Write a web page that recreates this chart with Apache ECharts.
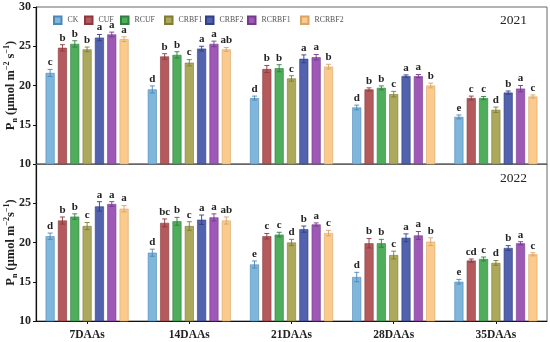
<!DOCTYPE html>
<html><head><meta charset="utf-8">
<script src="https://cdn.jsdelivr.net/npm/echarts@6/dist/echarts.min.js"></script>
<style>html,body{margin:0;padding:0;background:#fff}#c{width:550px;height:342px}</style>
</head><body><div id="c"></div>
<script>
const categories = ['7DAAs','14DAAs','21DAAs','28DAAs','35DAAs'];
const treatments = ['CK','CUF','RCUF','CRBF1','CRBF2','RCRBF1','RCRBF2'];
const yTicks = [10,15,20,25,30];

// 2021 Pn values, one row per treatment, columns = categories
const pn2021 = [
  [21.6,19.5,18.4,17.2,16.0],
  [24.8,23.7,22.1,19.5,18.4],
  [25.3,23.9,22.2,19.7,18.4],
  [24.6,22.9,20.9,18.9,16.9],
  [26.1,24.7,23.4,21.2,19.1],
  [26.5,25.3,23.6,21.2,19.6],
  [25.9,24.6,22.4,20.0,18.6]
];
const err2021 = [
  [0.45,0.45,0.25,0.3,0.25],
  [0.4,0.35,0.45,0.2,0.25],
  [0.4,0.4,0.45,0.25,0.2],
  [0.3,0.4,0.35,0.35,0.35],
  [0.4,0.3,0.5,0.15,0.2],
  [0.3,0.35,0.35,0.2,0.4],
  [0.3,0.25,0.3,0.3,0.2]
];
const letters2021 = [
  ['c','d','d','d','e'],
  ['b','b','b','b','c'],
  ['b','b','b','b','c'],
  ['b','c','c','c','d'],
  ['a','a','a','a','b'],
  ['a','a','a','a','a'],
  ['a','ab','b','b','c']
];
// 2022
const pn2022 = [
  [20.8,18.7,17.2,15.6,15.0],
  [22.8,22.5,20.8,19.9,17.7],
  [23.3,22.7,21.0,19.9,17.9],
  [22.1,22.1,20.0,18.4,17.4],
  [24.6,22.9,21.7,20.6,19.3],
  [24.9,23.2,22.3,20.9,19.9],
  [24.3,22.8,21.2,20.1,18.5]
];
const err2022 = [
  [0.4,0.45,0.45,0.6,0.3],
  [0.45,0.5,0.35,0.6,0.2],
  [0.35,0.5,0.3,0.5,0.25],
  [0.45,0.55,0.4,0.5,0.3],
  [0.6,0.6,0.4,0.5,0.3],
  [0.3,0.45,0.2,0.5,0.2],
  [0.4,0.45,0.35,0.5,0.2]
];
const letters2022 = [
  ['d','d','e','d','e'],
  ['b','bc','c','b','cd'],
  ['b','b','c','b','c'],
  ['c','c','d','c','d'],
  ['a','a','b','a','b'],
  ['a','a','a','a','a'],
  ['a','ab','c','b','c']
];

const fills = ['#7eb6dc','#b4595c','#4fad5b','#aca95d','#5262ad','#9e58b6','#fbcb8d'];
const edges = ['#4d88b5','#8a3a3e','#2f8040','#7f7c38','#323f86','#733b8b','#d9a465'];
const legendLeft = [53,84,120,164,205,247,300];

const SERIF = '"Liberation Serif","Times New Roman",serif';
const BAR_W = 9, BAR_GAP = 0.37;
const STEP = BAR_W * (1 + BAR_GAP);

function yAxisCfg(gi, nameText, showMax){
  return {
    type:'value', gridIndex:gi, min:10, max:30, interval:5,
    axisLine:{show:true, lineStyle:{color:'#111', width:1.2}},
    axisTick:{show:true, length:3, lineStyle:{color:'#111'}},
    splitLine:{show:false},
    axisLabel:{fontFamily:SERIF, fontWeight:'bold', fontSize:12, color:'#222', margin:5, showMaxLabel:showMax},
    name:nameText, nameLocation:'middle', nameGap:17, nameRotate:90, nameMoveOverlap:false,
    nameTextStyle:{
      fontFamily:SERIF, fontWeight:'bold', fontSize:12.5, color:'#222',
      rich:{
        b:{fontFamily:SERIF, fontWeight:'bold', fontSize:12.5, color:'#222', lineHeight:16},
        sub:{fontFamily:SERIF, fontWeight:'bold', fontSize:8, color:'#222', verticalAlign:'bottom', lineHeight:16},
        sup:{fontFamily:SERIF, fontWeight:'bold', fontSize:8, color:'#222', verticalAlign:'top', lineHeight:16}
      }
    }
  };
}

function errSeries(gi, vals, errs, lets){
  const data = [];
  for (let s=0; s<vals.length; s++) for (let c=0; c<categories.length; c++) data.push([c, s, vals[s][c], errs[s][c]]);
  return {
    type:'custom', xAxisIndex:gi, yAxisIndex:gi, z:5, silent:true,
    data:data,
    renderItem:function(params, api){
      const c = api.value(0), s = api.value(1), v = api.value(2), e = api.value(3);
      const base = api.coord([c, v]);
      const x = base[0] + (s - 3) * STEP;
      const yt = api.coord([c, v + e])[1];
      const yb = api.coord([c, v - e])[1];
      const col = edges[s];
      const ls = {stroke:col, lineWidth:0.9};
      return {type:'group', children:[
        {type:'line', shape:{x1:x, y1:yt, x2:x, y2:yb}, style:ls},
        {type:'line', shape:{x1:x-2.5, y1:yt, x2:x+2.5, y2:yt}, style:ls},
        {type:'line', shape:{x1:x-2.5, y1:yb, x2:x+2.5, y2:yb}, style:ls},
        {type:'text', x:x, y:yt-1.5, style:{text:lets[s][c], fontFamily:SERIF, fontWeight:'bold', fontSize:11, fill:'#222', align:'center', verticalAlign:'bottom'}}
      ]};
    }
  };
}

const series = [];
treatments.forEach(function(t, s){
  series.push({name:t, type:'bar', xAxisIndex:0, yAxisIndex:0, data:pn2021[s], barWidth:BAR_W, barGap:(BAR_GAP*100)+'%',
    itemStyle:{color:fills[s], borderColor:edges[s], borderWidth:0.6}});
});
treatments.forEach(function(t, s){
  series.push({name:t, type:'bar', xAxisIndex:1, yAxisIndex:1, data:pn2022[s], barWidth:BAR_W, barGap:(BAR_GAP*100)+'%',
    itemStyle:{color:fills[s], borderColor:edges[s], borderWidth:0.6}});
});
series.push(errSeries(0, pn2021, err2021, letters2021));
series.push(errSeries(1, pn2022, err2022, letters2022));

const legends = treatments.map(function(t, i){
  return {data:[t], left:legendLeft[i], top:15.5, padding:0, itemWidth:7.5, itemHeight:7.5, itemGap:0, icon:'rect',
    textStyle:{fontFamily:SERIF, fontSize:7.8, color:'#555', padding:[0,0,0,1]}, selectedMode:false};
});

const option = {
  animation:false,
  backgroundColor:'#fff',
  title:[
    {text:'2021', left:500, top:13, padding:0, textStyle:{fontFamily:SERIF, fontWeight:'normal', fontSize:13.5, color:'#222'}},
    {text:'2022', left:500, top:171, padding:0, textStyle:{fontFamily:SERIF, fontWeight:'normal', fontSize:13.5, color:'#222'}}
  ],
  legend:legends,
  grid:[
    {left:36, right:3, top:7, height:157, show:true, borderColor:'#666', borderWidth:1, outerBoundsMode:'none', containLabel:false},
    {left:36, right:3, top:164, height:157, show:true, borderColor:'#666', borderWidth:1, outerBoundsMode:'none', containLabel:false}
  ],
  xAxis:[
    {type:'category', gridIndex:0, data:categories, axisLabel:{show:false}, axisTick:{show:false},
      axisLine:{show:true, lineStyle:{color:'#666', width:1}}},
    {type:'category', gridIndex:1, data:categories,
      axisTick:{show:true, alignWithLabel:true, length:3, lineStyle:{color:'#111'}},
      axisLine:{show:true, lineStyle:{color:'#111', width:1.2}},
      axisLabel:{fontFamily:SERIF, fontWeight:'bold', fontSize:11.5, color:'#222', margin:8}}
  ],
  yAxis:[
    yAxisCfg(0, '{b|P}{sub|n}{b| (μmol m}{sup|−2}{b| s}{sup|−1}{b|)}', true),
    yAxisCfg(1, '{b|P}{sub|n}{b| (μmol m}{sup|−2}{b|s}{sup|−1}{b|)}', false)
  ],
  series:series
};
const chart = echarts.init(document.getElementById('c'), null, {renderer:'canvas'});
chart.setOption(option);
</script></body></html>
